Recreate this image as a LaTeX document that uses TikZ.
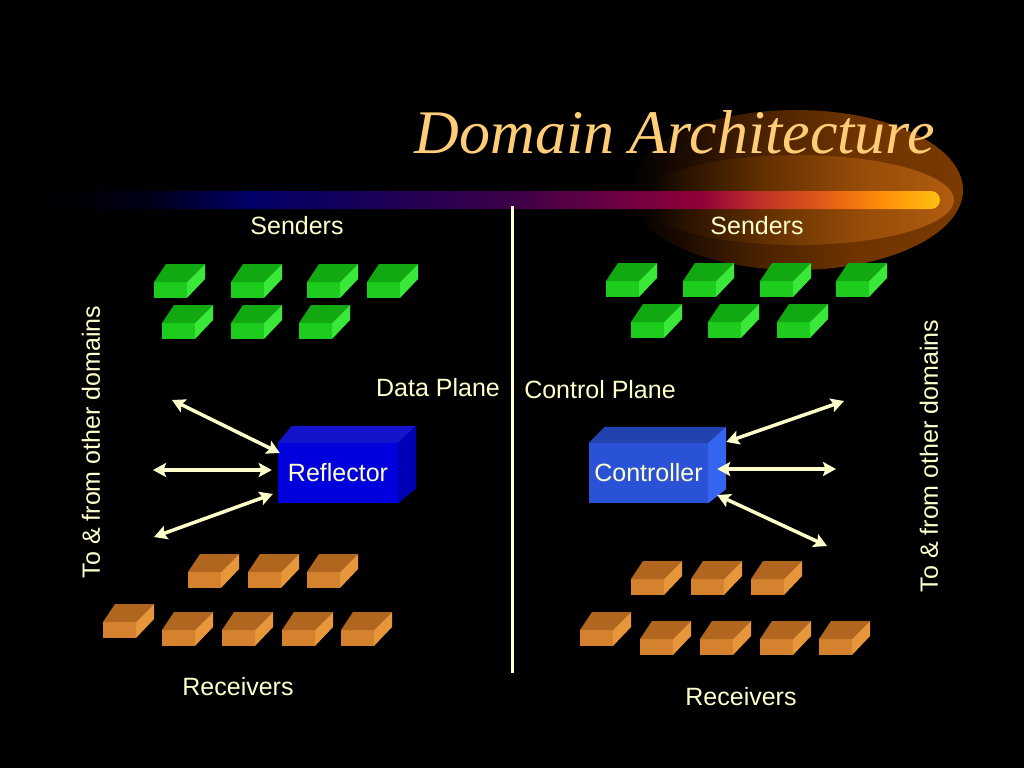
\documentclass[tikz,border=0pt]{standalone}
\usepackage{fontspec}
\setmainfont{Liberation Sans}
\newfontfamily\titlefont{Liberation Serif}
\usetikzlibrary{arrows.meta}

\definecolor{cream}{HTML}{FFFFCC}
\definecolor{titlegold}{HTML}{FFCC77}
\definecolor{sndfront}{HTML}{1ECC1E}
\definecolor{sndtop}{HTML}{12A812}
\definecolor{sndside}{HTML}{3AE83A}
\definecolor{rcvfront}{HTML}{D4822E}
\definecolor{rcvtop}{HTML}{B0661E}
\definecolor{rcvside}{HTML}{E8963C}
\definecolor{reffront}{HTML}{0000DC}
\definecolor{reftop}{HTML}{1414CC}
\definecolor{refside}{HTML}{0000B4}
\definecolor{ctlfront}{HTML}{2A52D6}
\definecolor{ctltop}{HTML}{2242B0}
\definecolor{ctlside}{HTML}{3464F0}

\pgfdeclarehorizontalshading{swoosh}{100bp}{color(0bp)=(black); color(25bp)=(black);
    color(30.9bp)=(black!90!blue); color(36.5bp)=(rgb,255:red,0;green,0;blue,104);
    color(44.8bp)=(rgb,255:red,32;green,0;blue,84); color(51.5bp)=(rgb,255:red,64;green,0;blue,72);
    color(58.2bp)=(rgb,255:red,120;green,0;blue,64); color(61.6bp)=(rgb,255:red,144;green,0;blue,56);
    color(64.9bp)=(rgb,255:red,192;green,48;blue,40); color(68.3bp)=(rgb,255:red,224;green,88;blue,24);
    color(71.6bp)=(rgb,255:red,255;green,140;blue,8); color(75bp)=(rgb,255:red,255;green,192;blue,16);
    color(100bp)=(rgb,255:red,255;green,192;blue,16)}
\pgfdeclarehorizontalshading{glowout}{100bp}{color(0bp)=(black); color(25bp)=(black);
    color(32.6bp)=(rgb,255:red,26;green,10;blue,0); color(44.6bp)=(rgb,255:red,74;green,34;blue,0);
    color(59.6bp)=(rgb,255:red,112;green,52;blue,0); color(75bp)=(rgb,255:red,122;green,58;blue,0);
    color(100bp)=(rgb,255:red,122;green,58;blue,0)}
\pgfdeclarehorizontalshading{glowin}{100bp}{color(0bp)=(black); color(25bp)=(black);
    color(32bp)=(rgb,255:red,40;green,18;blue,0); color(45bp)=(rgb,255:red,100;green,48;blue,0);
    color(60bp)=(rgb,255:red,150;green,76;blue,8); color(75bp)=(rgb,255:red,176;green,92;blue,16);
    color(100bp)=(rgb,255:red,176;green,92;blue,16)}

\tikzset{
    brick/.pic={
        \fill[#1front] (0,0) rectangle (33,16);
        \fill[#1top] (0,0) -- (12,-18) -- (51,-18) -- (33,0) -- cycle;
        \fill[#1side] (33,0) -- (51,-18) -- (51,-3) -- (33,16) -- cycle;
    },
    label text/.style={text=cream, font=\fontsize{25}{30}\selectfont, inner sep=0pt},
    blockbox/.style={label text, minimum width=120pt, minimum height=60pt},
    dualarrow/.style={cream, line width=3.5pt,
        {Stealth[length=13pt,width=14pt,inset=2.5pt]}-{Stealth[length=13pt,width=14pt,inset=2.5pt]}},
}

\begin{document}
\begin{tikzpicture}[x=1pt, y=-1pt]
    \fill[black] (0,0) rectangle (1024,768);
    \useasboundingbox (0,0) rectangle (1024,768);

    % swoosh under the title
    \shade[shading=glowout] (796,190) ellipse [x radius=167, y radius=80];
    \shade[shading=glowin] (797,200) ellipse [x radius=157, y radius=45];
    \shade[shading=swoosh, rounded corners=9pt] (45,191) rectangle (940,209);
    \node[text=titlegold, font=\titlefont\itshape\fontsize{62}{70}\selectfont, anchor=base, inner sep=0pt]
        (title) at (675,153) {Domain Architecture};

    \draw[cream, line width=3pt] (512,206) -- (512,673);

    % senders and receivers
    \foreach \x/\y in {154/282, 231/282, 307/282, 367/282, 162/323, 231/323, 299/323,
                       606/281, 683/281, 760/281, 836/281, 631/322, 708/322, 777/322}
        \pic at (\x,\y) {brick=snd};
    \foreach \x/\y in {188/572, 248/572, 307/572, 103/622, 162/630, 222/630, 282/630, 341/630,
                       631/579, 691/579, 751/579, 580/630, 640/639, 700/639, 760/639, 819/639}
        \pic at (\x,\y) {brick=rcv};

    \node[label text] (sndl) at (297,226) {Senders};
    \node[label text] (sndr) at (757,226) {Senders};
    \node[label text] (rcvl) at (238,687) {Receivers};
    \node[label text] (rcvr) at (741,697) {Receivers};
    \node[label text] (dplane) at (438,388) {Data Plane};
    \node[label text] (cplane) at (600,390) {Control Plane};
    \node[label text, rotate=90] (othl) at (91,442) {To \& from other domains};
    \node[label text, rotate=90] (othr) at (929,456) {To \& from other domains};

    % reflector
    \node[blockbox, fill=reffront] (refl) at (338,473) {Reflector};
    \fill[reftop] (refl.north west) -- ++(14,-17) -- ([shift={(18,-17)}]refl.north east) -- (refl.north east) -- cycle;
    \fill[refside] (refl.north east) -- ++(18,-17) -- ([shift={(18,-15)}]refl.south east) -- (refl.south east) -- cycle;

    % controller
    \node[blockbox, fill=ctlfront, minimum width=119pt] (ctrl) at (648.5,473) {Controller};
    \fill[ctltop] (ctrl.north west) -- ++(16,-16) -- ([shift={(18,-16)}]ctrl.north east) -- (ctrl.north east) -- cycle;
    \fill[ctlside] (ctrl.north east) -- ++(18,-16) -- ([shift={(18,-14)}]ctrl.south east) -- (ctrl.south east) -- cycle;

    \coordinate (l1) at (172,400);
    \coordinate (l2) at (153,470);
    \coordinate (l3) at (154,537);
    \coordinate (r1) at (844,401);
    \coordinate (r2) at (836,469);
    \coordinate (r3) at (827,546);
    \draw[dualarrow] (l1) -- ([shift={(2,-20)}]refl.west);
    \draw[dualarrow] (l2) -- ([shift={(-6,-3)}]refl.west);
    \draw[dualarrow] (l3) -- ([shift={(-5,21)}]refl.west);
    \draw[dualarrow] ([shift={(18,-31)}]ctrl.east) -- (r1);
    \draw[dualarrow] ([shift={(9,-4)}]ctrl.east) -- (r2);
    \draw[dualarrow] ([shift={(9,22)}]ctrl.east) -- (r3);
\end{tikzpicture}
\end{document}
